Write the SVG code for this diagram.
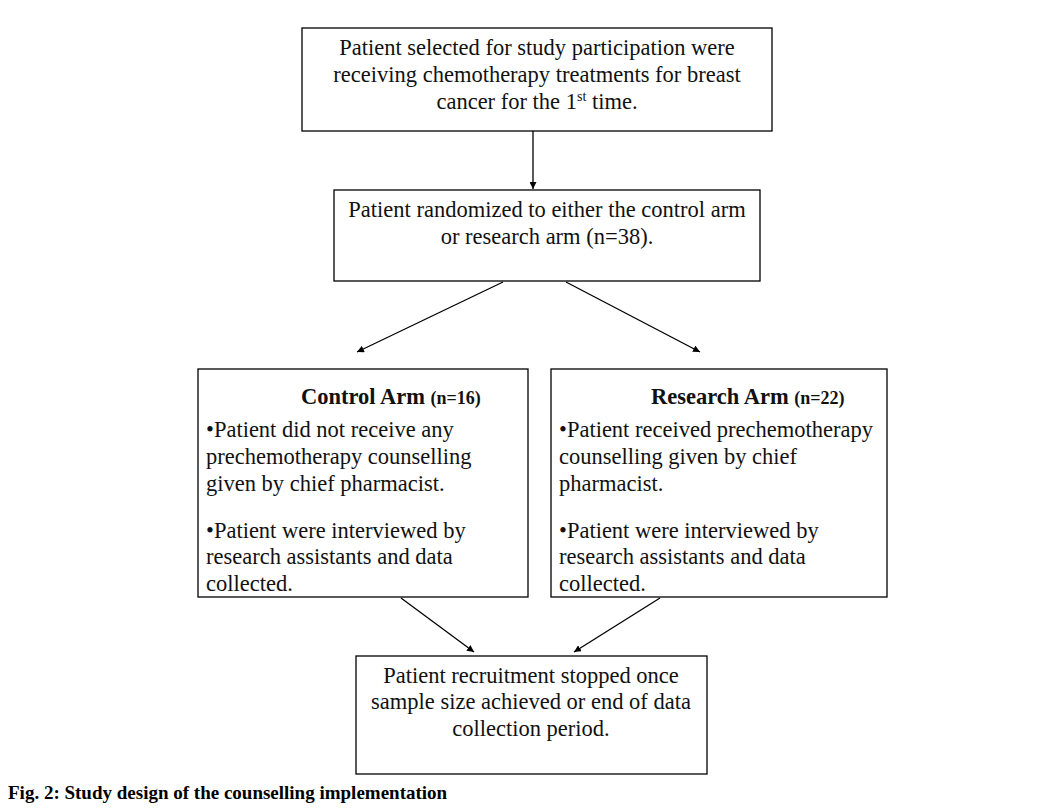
<svg xmlns="http://www.w3.org/2000/svg" width="1039" height="810" viewBox="0 0 1039 810">
<defs>
<marker id="ah" viewBox="0 0 10 10" refX="10" refY="5" markerWidth="7" markerHeight="7" orient="auto" markerUnits="userSpaceOnUse">
<path d="M0,0 L10,5 L0,10 z" fill="#000"/>
</marker>
<style>
.box{fill:#fff;stroke:#000;stroke-width:1.3}
.t{font-family:"Liberation Serif","Times New Roman",serif;font-size:22.5px;fill:#111}
.c{text-anchor:middle}
.b{font-weight:bold}
.sm{font-size:18px;font-weight:bold}
.ln{stroke:#000;stroke-width:1.3;fill:none;marker-end:url(#ah)}
.cap{font-family:"Liberation Serif","Times New Roman",serif;font-size:19px;font-weight:bold;fill:#000}
</style>
</defs>
<rect width="1039" height="810" fill="#fff"/>
<g id="n1">
<rect class="box" x="302" y="28" width="470" height="103"/>
<text class="t c" x="537" y="55">Patient selected for study participation were</text>
<text class="t c" x="537" y="82">receiving chemotherapy treatments for breast</text>
<text class="t c" x="537" y="109">cancer for the 1<tspan font-size="14" dy="-8">st</tspan><tspan dy="8"> time.</tspan></text>
</g>
<g id="n2">
<rect class="box" x="334" y="190" width="426" height="91"/>
<text class="t c" x="547" y="217">Patient randomized to either the control arm</text>
<text class="t c" x="547" y="244">or research arm (n=38).</text>
</g>
<g id="n3">
<rect class="box" x="198" y="369" width="330" height="228"/>
<text class="t" x="301" y="404"><tspan class="b" font-size="22.5">Control Arm</tspan> <tspan class="sm">(n=16)</tspan></text>
<text class="t" x="206" y="437">•Patient did not receive any</text>
<text class="t" x="206" y="464">prechemotherapy counselling</text>
<text class="t" x="206" y="491">given by chief pharmacist.</text>
<text class="t" x="206" y="538">•Patient were interviewed by</text>
<text class="t" x="206" y="564">research assistants and data</text>
<text class="t" x="206" y="591">collected.</text>
</g>
<g id="n4">
<rect class="box" x="551" y="369" width="336" height="228"/>
<text class="t" x="651" y="404"><tspan class="b" font-size="22.5">Research Arm</tspan> <tspan class="sm">(n=22)</tspan></text>
<text class="t" x="559" y="437">•Patient received prechemotherapy</text>
<text class="t" x="559" y="464">counselling given by chief</text>
<text class="t" x="559" y="491">pharmacist.</text>
<text class="t" x="559" y="538">•Patient were interviewed by</text>
<text class="t" x="559" y="564">research assistants and data</text>
<text class="t" x="559" y="591">collected.</text>
</g>
<g id="n5">
<rect class="box" x="356" y="656" width="351" height="118"/>
<text class="t c" x="531" y="683">Patient recruitment stopped once</text>
<text class="t c" x="531" y="709">sample size achieved or end of data</text>
<text class="t c" x="531" y="736">collection period.</text>
</g>
<g id="connectors">
<line class="ln" x1="533" y1="131" x2="533" y2="189"/>
<line class="ln" x1="503" y1="282" x2="357" y2="352"/>
<line class="ln" x1="566" y1="282" x2="700" y2="352"/>
<line class="ln" x1="401" y1="598" x2="474" y2="652"/>
<line class="ln" x1="660" y1="598" x2="574" y2="652"/>
</g>
<text class="cap" x="8" y="799">Fig. 2: Study design of the counselling implementation</text>
</svg>
